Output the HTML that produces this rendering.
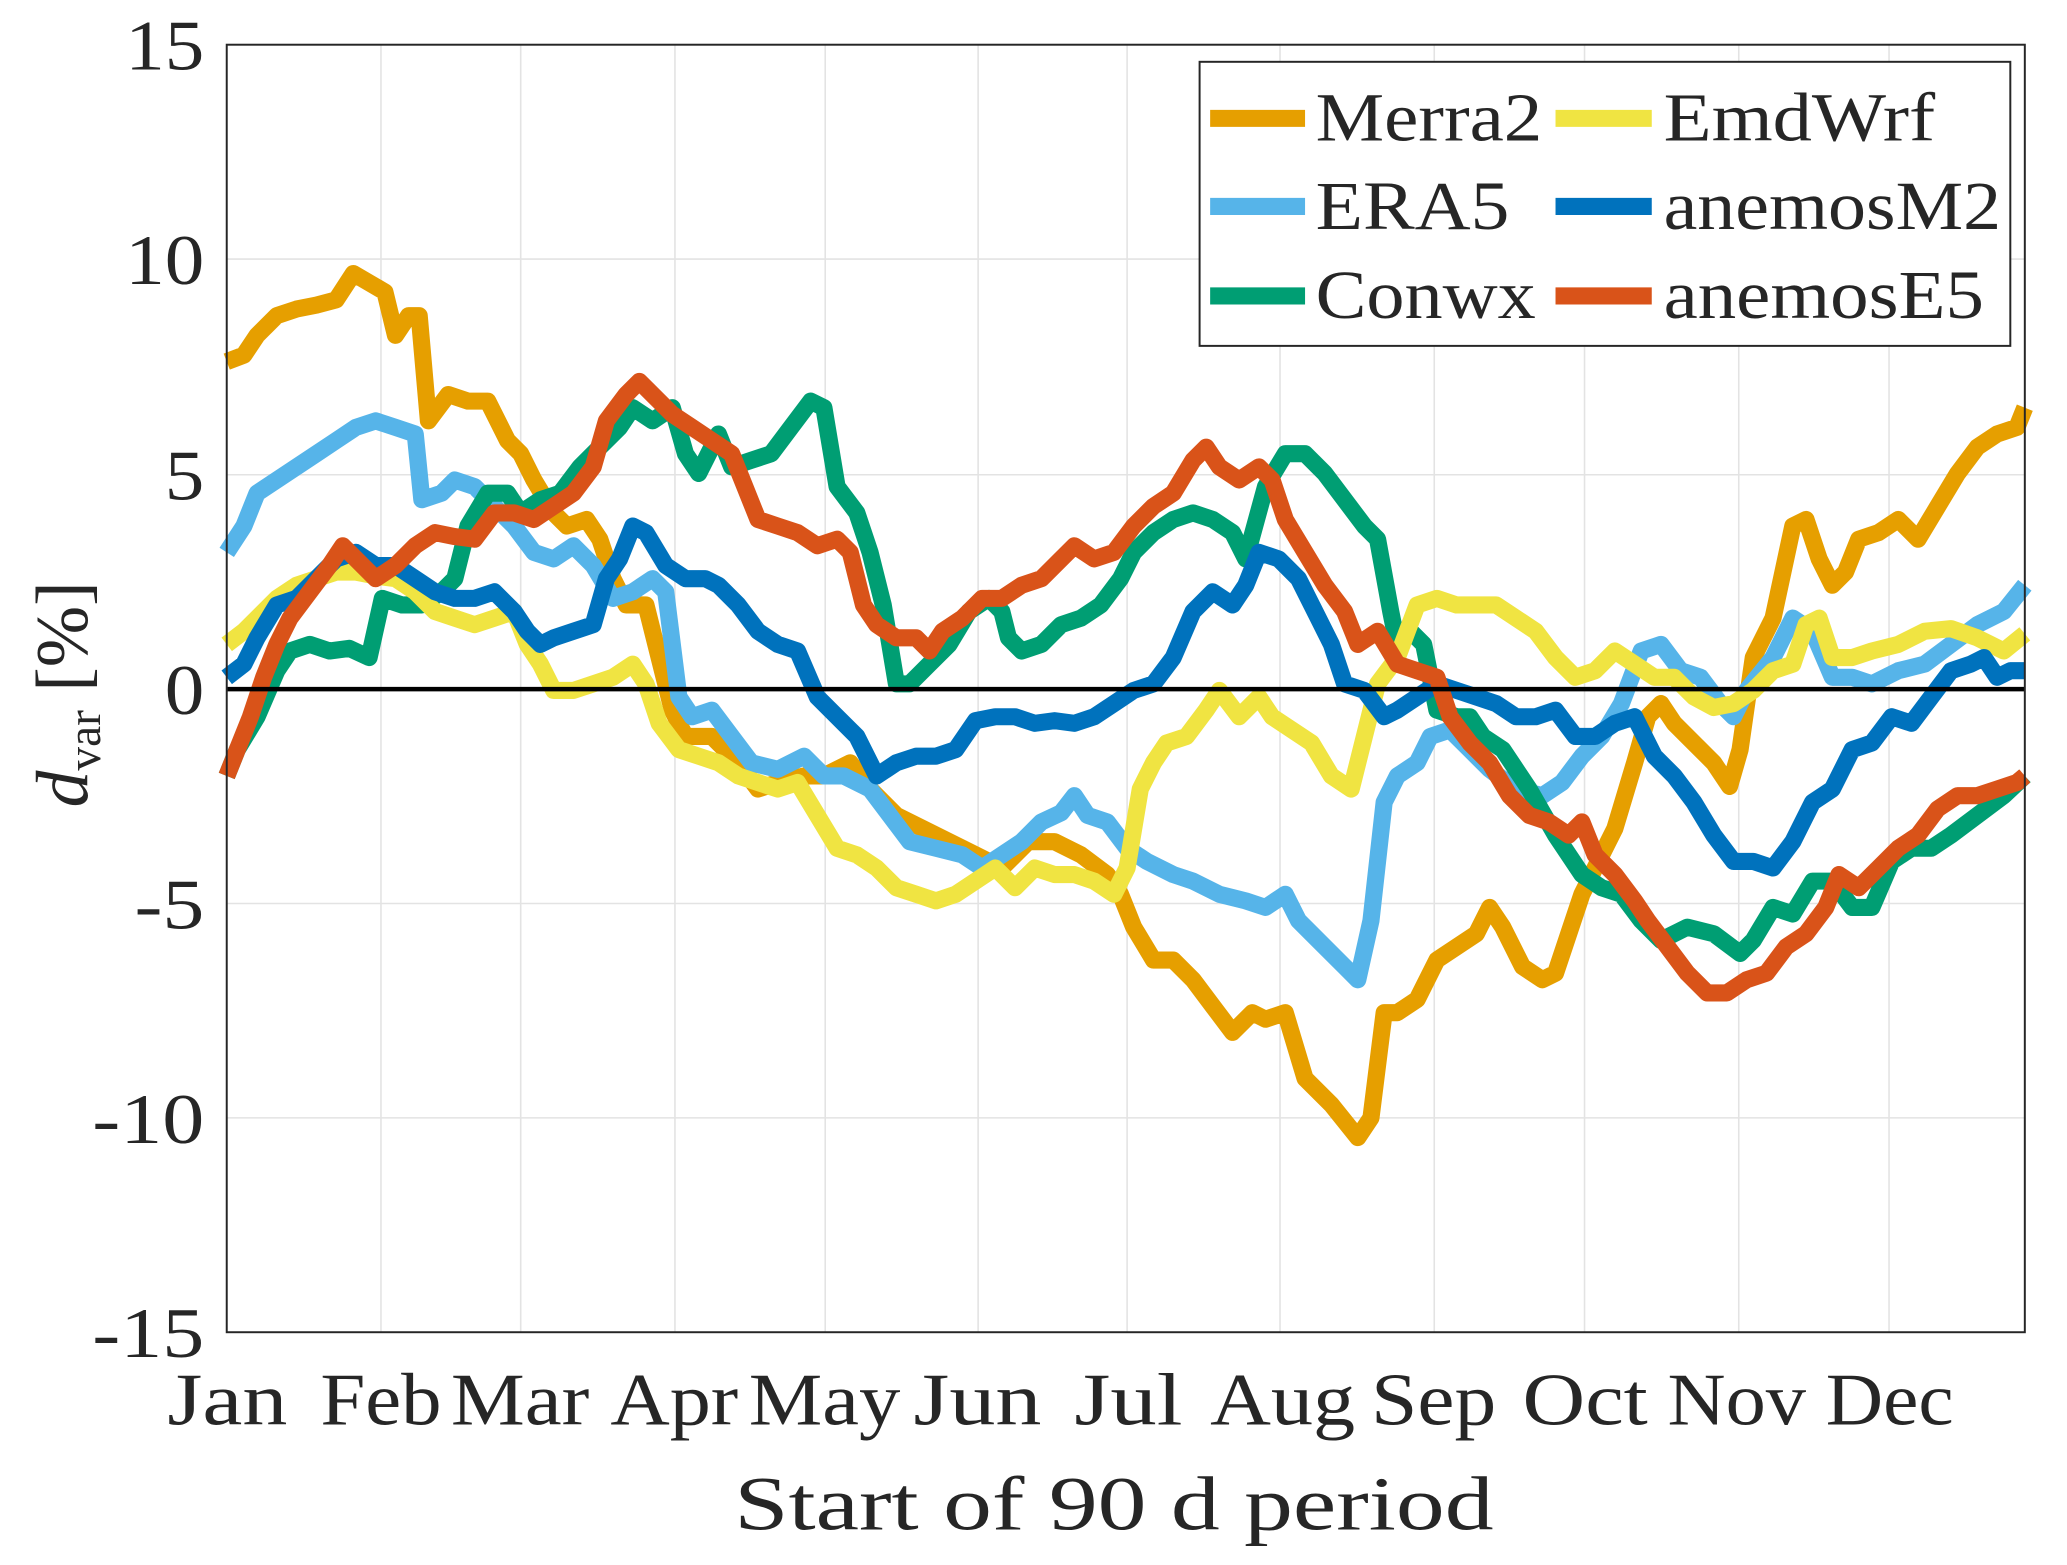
<!DOCTYPE html>
<html><head><meta charset="utf-8"><style>
html,body{margin:0;padding:0;background:#fff;}
svg{display:block;}
text{font-family:"Liberation Serif",serif;fill:#262626;}
</style></head><body>
<svg width="2067" height="1565" viewBox="0 0 1568 1190" preserveAspectRatio="none" xmlns="http://www.w3.org/2000/svg">
<rect width="1568" height="1190" fill="#fff"/>
<g stroke="#e3e3e3" stroke-width="1.2">
<line x1="289" y1="34" x2="289" y2="1013"/><line x1="395" y1="34" x2="395" y2="1013"/><line x1="512" y1="34" x2="512" y2="1013"/><line x1="626" y1="34" x2="626" y2="1013"/><line x1="742" y1="34" x2="742" y2="1013"/><line x1="855" y1="34" x2="855" y2="1013"/><line x1="971" y1="34" x2="971" y2="1013"/><line x1="1088" y1="34" x2="1088" y2="1013"/><line x1="1202" y1="34" x2="1202" y2="1013"/><line x1="1319" y1="34" x2="1319" y2="1013"/><line x1="1433" y1="34" x2="1433" y2="1013"/>
<line x1="172" y1="197" x2="1536" y2="197"/><line x1="172" y1="361" x2="1536" y2="361"/><line x1="172" y1="687" x2="1536" y2="687"/><line x1="172" y1="850" x2="1536" y2="850"/>
</g>
<g fill="none" stroke-width="13" stroke-linejoin="round" stroke-linecap="butt">
<polyline stroke="#E69F00" points="172,275 185,270 195,255 210,240 225,235 240,232 255,228 268,208 280,215 292,222 300,255 310,240 318,240 325,320 340,300 355,305 370,305 385,335 395,345 405,365 420,390 430,400 445,395 455,410 465,440 475,460 490,460 500,500 510,540 520,560 540,560 560,580 575,600 590,595 610,590 625,590 645,580 660,600 680,620 700,630 720,640 740,650 760,660 780,640 800,640 820,650 840,665 850,680 860,705 875,730 890,730 905,745 920,765 935,785 950,770 960,775 975,770 990,820 1010,840 1030,865 1040,850 1050,770 1060,770 1075,760 1090,730 1105,720 1120,710 1130,690 1140,705 1155,735 1170,745 1180,740 1190,710 1200,680 1210,660 1225,630 1240,580 1250,545 1260,535 1270,550 1285,565 1300,580 1312,598 1320,570 1330,500 1345,470 1360,400 1370,395 1380,425 1390,445 1400,435 1410,410 1425,405 1440,395 1455,410 1470,385 1485,360 1500,340 1515,330 1530,325 1536,310"/>
<polyline stroke="#56B4E9" points="172,420 185,400 195,375 210,365 225,355 240,345 255,335 270,325 285,320 300,325 315,330 320,380 335,375 345,365 360,370 375,385 390,400 405,420 420,425 435,415 450,430 465,455 480,450 495,440 505,450 515,530 525,545 540,540 555,560 570,580 590,585 610,575 625,590 640,590 660,600 675,620 690,640 710,645 730,650 745,660 760,650 775,640 790,625 805,618 815,605 825,620 840,625 855,645 870,655 890,665 905,670 925,680 945,685 960,690 975,680 985,700 1000,715 1020,735 1030,745 1040,700 1050,610 1060,590 1075,580 1085,560 1100,555 1115,570 1130,585 1150,600 1170,605 1185,595 1200,575 1215,560 1230,535 1245,495 1260,490 1275,510 1290,515 1305,535 1315,545 1325,525 1345,500 1360,470 1375,480 1390,515 1405,515 1420,520 1440,510 1460,505 1480,490 1500,475 1520,465 1536,445"/>
<polyline stroke="#009E73" points="172,590 180,570 195,545 210,510 220,495 235,490 250,495 265,493 280,500 290,455 305,460 320,460 335,450 345,440 355,400 370,375 385,375 395,390 410,380 425,375 440,355 455,340 470,325 480,310 495,320 510,310 520,345 530,360 545,330 555,355 570,350 585,345 600,325 615,305 625,310 635,370 650,390 660,420 670,460 680,520 690,520 705,505 720,490 735,465 750,455 760,465 765,485 775,495 790,490 805,475 820,470 835,460 850,440 860,420 875,405 890,395 905,390 920,395 935,405 945,425 960,370 975,345 990,345 1005,360 1020,380 1035,400 1045,410 1055,465 1060,490 1070,480 1080,490 1090,540 1105,545 1115,545 1125,560 1140,570 1160,600 1180,635 1200,665 1215,675 1230,680 1245,700 1260,715 1280,705 1300,710 1320,725 1330,715 1345,690 1360,695 1375,670 1390,670 1405,690 1420,690 1435,655 1450,645 1465,645 1480,635 1500,620 1520,605 1536,590"/>
<polyline stroke="#F0E442" points="172,490 185,480 195,470 210,455 225,445 240,440 255,435 270,435 285,438 300,440 315,450 330,465 345,470 360,475 375,470 390,465 400,490 410,505 420,525 435,525 450,520 465,515 480,505 490,520 500,550 515,570 530,575 545,580 560,590 575,595 590,600 605,595 620,620 635,645 650,650 665,660 680,675 695,680 710,685 725,680 740,670 755,660 770,675 785,660 800,665 815,665 830,670 845,680 855,660 865,600 875,580 885,565 900,560 915,540 925,525 940,545 955,530 965,545 980,555 995,565 1010,590 1025,600 1035,560 1045,520 1060,500 1075,460 1090,455 1105,460 1120,460 1135,460 1150,470 1165,480 1180,500 1195,515 1210,510 1225,495 1240,505 1255,515 1270,515 1285,530 1300,538 1315,535 1330,525 1345,510 1360,505 1370,475 1380,470 1390,500 1405,500 1420,495 1440,490 1460,480 1480,478 1500,485 1520,495 1536,482"/>
<polyline stroke="#0072BD" points="172,515 185,505 195,485 210,460 225,455 240,440 255,425 270,420 285,430 300,430 315,440 330,450 345,455 360,455 375,450 390,465 400,480 410,490 420,485 435,480 450,475 460,440 470,425 480,400 490,405 505,430 520,440 535,440 545,445 560,460 575,480 590,490 605,495 620,530 635,545 650,560 665,590 680,580 695,575 710,575 725,570 740,548 755,545 770,545 785,550 800,548 815,550 830,545 845,535 860,525 875,520 890,500 905,465 920,450 935,460 945,445 955,420 970,425 985,440 1000,470 1010,490 1020,520 1035,525 1050,545 1060,540 1075,530 1090,520 1105,525 1120,530 1135,535 1150,545 1165,545 1180,540 1195,560 1210,560 1225,550 1240,545 1255,575 1270,590 1285,610 1300,635 1315,655 1330,655 1345,660 1360,640 1375,610 1390,600 1405,570 1420,565 1435,545 1450,550 1465,530 1480,510 1495,505 1505,500 1515,515 1525,510 1536,510"/>
<polyline stroke="#D95319" points="172,590 180,570 190,545 200,515 210,490 220,470 235,450 250,430 260,415 270,425 285,440 300,430 315,415 330,405 345,408 360,410 375,390 390,390 405,395 420,385 435,375 450,355 460,320 475,300 485,290 495,300 510,315 525,325 540,335 555,345 565,370 575,395 590,400 605,405 620,415 635,410 645,420 655,460 665,475 680,485 695,485 705,495 715,480 730,470 745,455 760,455 775,445 790,440 805,425 815,415 830,425 845,420 860,400 875,385 890,375 905,350 915,340 925,355 940,365 955,355 965,365 975,395 990,420 1005,445 1020,465 1030,490 1045,480 1060,505 1075,510 1090,515 1100,545 1115,565 1130,580 1145,605 1160,620 1175,625 1190,635 1200,625 1210,650 1225,665 1240,685 1250,700 1265,720 1280,740 1295,755 1310,755 1325,745 1340,740 1355,720 1370,710 1385,690 1395,665 1410,675 1425,660 1440,645 1455,635 1470,615 1485,605 1500,605 1515,600 1530,595 1536,590"/>
</g>
<line x1="172" y1="524" x2="1536" y2="524" stroke="#000" stroke-width="3.5"/>
<rect x="172" y="34" width="1364" height="979" fill="none" stroke="#262626" stroke-width="1.5"/>
<g font-size="54">
<text x="95" y="53" textLength="60" lengthAdjust="spacingAndGlyphs">15</text>
<text x="95" y="216" textLength="60" lengthAdjust="spacingAndGlyphs">10</text>
<text x="125" y="380" textLength="30" lengthAdjust="spacingAndGlyphs">5</text>
<text x="125" y="543" textLength="30" lengthAdjust="spacingAndGlyphs">0</text>
<text x="102" y="706" textLength="53" lengthAdjust="spacingAndGlyphs">-5</text>
<text x="70" y="869" textLength="85" lengthAdjust="spacingAndGlyphs">-10</text>
<text x="70" y="1032" textLength="85" lengthAdjust="spacingAndGlyphs">-15</text>
</g>
<g font-size="56">
<text x="127" y="1083" textLength="91" lengthAdjust="spacingAndGlyphs">Jan</text>
<text x="243" y="1083" textLength="92" lengthAdjust="spacingAndGlyphs">Feb</text>
<text x="342" y="1083" textLength="105" lengthAdjust="spacingAndGlyphs">Mar</text>
<text x="463" y="1083" textLength="97" lengthAdjust="spacingAndGlyphs">Apr</text>
<text x="568" y="1083" textLength="115" lengthAdjust="spacingAndGlyphs">May</text>
<text x="693" y="1083" textLength="97" lengthAdjust="spacingAndGlyphs">Jun</text>
<text x="815" y="1083" textLength="82" lengthAdjust="spacingAndGlyphs">Jul</text>
<text x="918" y="1083" textLength="110" lengthAdjust="spacingAndGlyphs">Aug</text>
<text x="1040" y="1083" textLength="95" lengthAdjust="spacingAndGlyphs">Sep</text>
<text x="1155" y="1083" textLength="95" lengthAdjust="spacingAndGlyphs">Oct</text>
<text x="1265" y="1083" textLength="105" lengthAdjust="spacingAndGlyphs">Nov</text>
<text x="1385" y="1083" textLength="97" lengthAdjust="spacingAndGlyphs">Dec</text>
<text x="557" y="1163" font-size="58" textLength="576" lengthAdjust="spacingAndGlyphs">Start of 90 d period</text>
</g>
<text transform="translate(66,528) rotate(-90)" font-size="56" text-anchor="middle"><tspan font-style="italic">d</tspan><tspan font-size="36" dy="10">var</tspan><tspan dy="-10"> [%]</tspan></text>
<rect x="910" y="47" width="615" height="216" fill="#fff" stroke="#262626" stroke-width="1.5"/>
<g stroke-width="13">
<line x1="918" y1="90" x2="990" y2="90" stroke="#E69F00"/>
<line x1="918" y1="157" x2="990" y2="157" stroke="#56B4E9"/>
<line x1="918" y1="225" x2="990" y2="225" stroke="#009E73"/>
<line x1="1180" y1="90" x2="1253" y2="90" stroke="#F0E442"/>
<line x1="1180" y1="157" x2="1253" y2="157" stroke="#0072BD"/>
<line x1="1180" y1="225" x2="1253" y2="225" stroke="#D95319"/>
</g>
<g font-size="52">
<text x="998" y="107" textLength="172" lengthAdjust="spacingAndGlyphs">Merra2</text>
<text x="998" y="174" textLength="147" lengthAdjust="spacingAndGlyphs">ERA5</text>
<text x="998" y="242" textLength="167" lengthAdjust="spacingAndGlyphs">Conwx</text>
<text x="1262" y="107" textLength="206" lengthAdjust="spacingAndGlyphs">EmdWrf</text>
<text x="1262" y="174" textLength="256" lengthAdjust="spacingAndGlyphs">anemosM2</text>
<text x="1262" y="242" textLength="243" lengthAdjust="spacingAndGlyphs">anemosE5</text>
</g>
</svg>
</body></html>
